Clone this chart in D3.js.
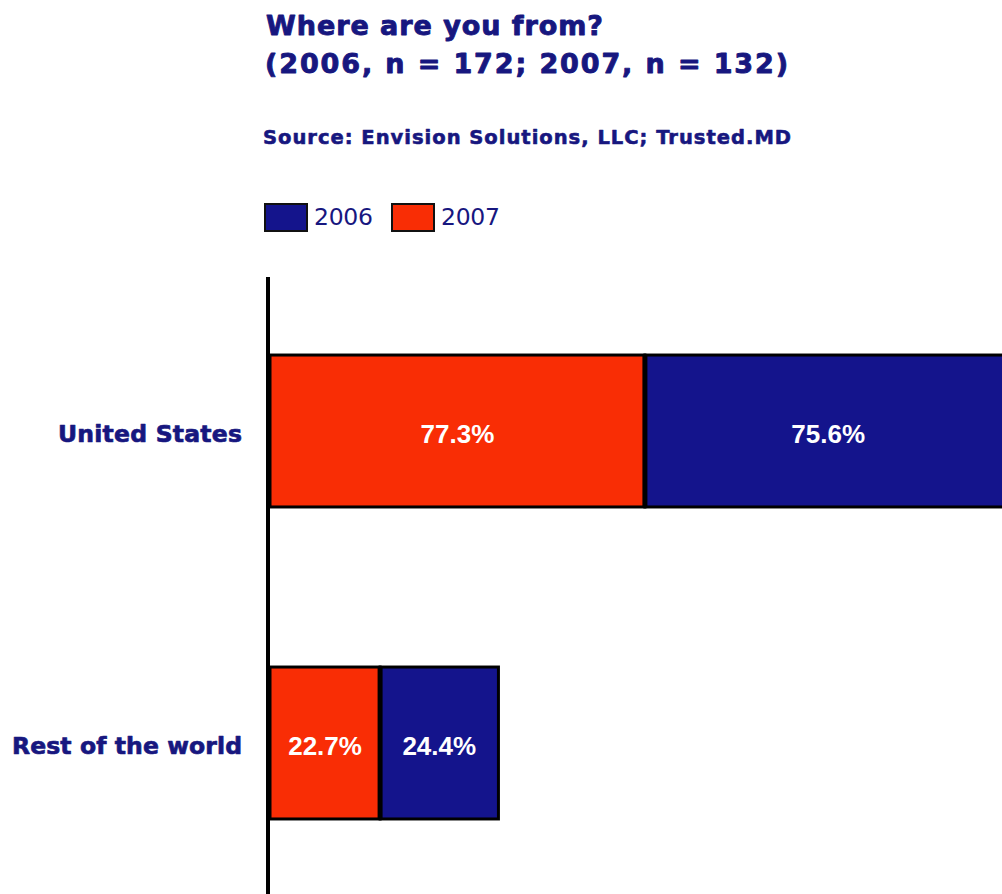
<!DOCTYPE html>
<html><head><meta charset="utf-8">
<script src="https://cdn.jsdelivr.net/npm/d3@7"></script>
<style>body{margin:0;background:#fff;overflow:hidden}</style>
</head><body>
<svg id="c" width="1002" height="894"></svg>
<script>
const categories = ["United States", "Rest of the world"];
const series = ["2007", "2006"];
const values2007 = [77.3, 22.7];
const values2006 = [75.6, 24.4];
const legendLabels = ["2006", "2007"];

const navy = "#17177f";
const colors = {"2006": "#14148c", "2007": "#f92d05"};

const svg = d3.select("#c");
svg.append("rect").attr("width",1002).attr("height",894).attr("fill","#fff");

const tf = "'DejaVu Sans', Verdana, sans-serif";
function fitText(sel, w){ sel.attr("textLength", w).attr("lengthAdjust","spacing"); return sel; }
function heavy(sel, sw){ return sel.attr("stroke", navy).attr("stroke-width", sw).attr("stroke-linejoin","round"); }

// Titles
heavy(fitText(svg.append("text").attr("x",266).attr("y",35).attr("font-family",tf).attr("font-weight","bold")
  .attr("font-size",27).attr("fill",navy).text("Where are you from?"), 337), 0.9);
heavy(fitText(svg.append("text").attr("x",265).attr("y",73).attr("font-family",tf).attr("font-weight","bold")
  .attr("font-size",27).attr("fill",navy).text("(2006, n = 172; 2007, n = 132)"), 523), 0.9);
heavy(fitText(svg.append("text").attr("x",263).attr("y",144).attr("font-family",tf).attr("font-weight","bold")
  .attr("font-size",19.5).attr("fill",navy).text("Source: Envision Solutions, LLC; Trusted.MD"), 528), 0.6);

// Legend
const lg = svg.append("g");
const legX = [265, 392];
legendLabels.forEach((k,i)=>{
  lg.append("rect").attr("x",legX[i]).attr("y",204).attr("width",42).attr("height",27)
    .attr("fill",colors[k]).attr("stroke","#111").attr("stroke-width",2);
  fitText(lg.append("text").attr("x",legX[i]+49).attr("y",225).attr("font-family",tf)
    .attr("font-size",23.5).attr("fill",navy).text(k), 59);
});

// Scales
const x = d3.scaleLinear().domain([0,100]).range([270,755]);
const y = d3.scalePoint().domain(categories).range([275,899]).padding(0.5);
const bh = y.step()*0.487;

const rows = categories.map((c,i)=>({cat:c, "2007":values2007[i], "2006":values2006[i]}));
const stack = d3.stack().keys(series)(rows);

const g = svg.append("g");
stack.forEach(layer=>{
  const key = layer.key;
  layer.forEach((d,i)=>{
    const cat = categories[i];
    const x0 = x(d[0]), x1 = x(d[1]);
    g.append("rect").attr("x",x0).attr("y",y(cat)-bh/2).attr("width",x1-x0).attr("height",bh)
      .attr("fill",colors[key]).attr("stroke","#000").attr("stroke-width",3);
  });
});
// separators between segments
stack.slice(0, -1).forEach(layer=>{
  layer.forEach((d,i)=>{
    const cat = categories[i];
    g.append("line").attr("x1",x(d[1])).attr("x2",x(d[1]))
      .attr("y1",y(cat)-bh/2).attr("y2",y(cat)+bh/2).attr("stroke","#000").attr("stroke-width",5);
  });
});
stack.forEach(layer=>{
  const key = layer.key;
  layer.forEach((d,i)=>{
    const cat = categories[i];
    const x0 = x(d[0]), x1 = x(d[1]);
    g.append("text").attr("x",(x0+x1)/2).attr("y",y(cat)+11.5).attr("text-anchor","middle")
      .attr("font-family","'Liberation Sans', Arial, sans-serif").attr("font-weight","bold")
      .attr("font-size",26).attr("fill","#fff")
      .text(d.data[key].toFixed(1)+"%");
  });
});

// Category labels
const catW = {"United States":184, "Rest of the world":230};
categories.forEach(c=>{
  heavy(fitText(svg.append("text").attr("x",242).attr("y",y(c)+10.5).attr("text-anchor","end")
    .attr("font-family",tf).attr("font-weight","bold").attr("font-size",23.5).attr("fill",navy).text(c), catW[c]), 0.7);
});

// Axis line
svg.append("line").attr("x1",268).attr("x2",268).attr("y1",277).attr("y2",894)
  .attr("stroke","#000").attr("stroke-width",4);
</script>
</body></html>
